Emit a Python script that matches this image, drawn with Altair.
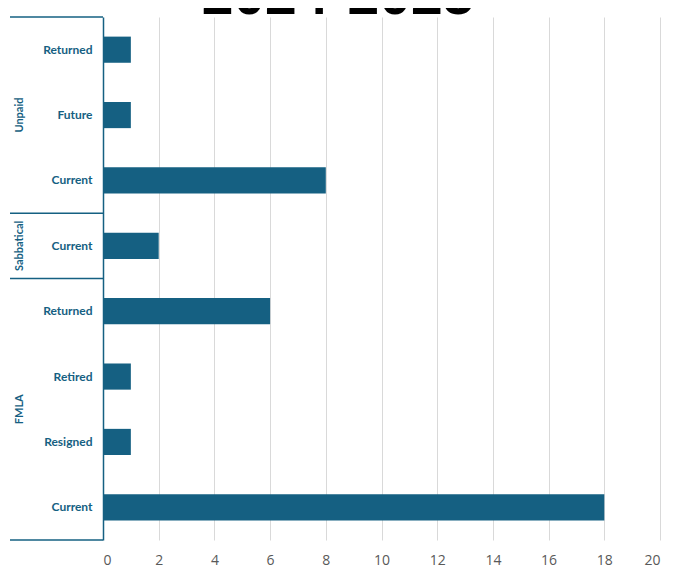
import altair as alt
import pandas as pd

chart_title = ["2024-2025"]

groups = ["Unpaid", "Unpaid", "Unpaid", "Sabbatical", "FMLA", "FMLA", "FMLA", "FMLA"]
statuses = ["Returned", "Future", "Current", "Current", "Returned", "Retired", "Resigned", "Current"]
counts = [1, 1, 8, 2, 6, 1, 1, 18]

group_names = ["Unpaid", "Sabbatical", "FMLA"]
group_start = [0, 3, 4]
group_end = [3, 4, 8]
boundaries = [0, 3, 4, 8]

x_ticks = [0, 2, 4, 6, 8, 10, 12, 14, 16, 18, 20]

BLUE = "#156082"

keys = [f"{g}|{s}" for g, s in zip(groups, statuses)]
bars_df = pd.DataFrame({"key": keys, "status": statuses, "count": counts})
grp_df = pd.DataFrame({"group": group_names,
                       "mid": [(a + b) / 2 for a, b in zip(group_start, group_end)]})
bnd_df = pd.DataFrame({"b": boundaries})
title_df = pd.DataFrame({"t": chart_title})

bars = alt.Chart(bars_df).mark_bar(color=BLUE).encode(
    y=alt.Y("key:N", sort=keys, title=None,
            scale=alt.Scale(paddingInner=0.6, paddingOuter=0.3),
            axis=alt.Axis(labelExpr="split(datum.value, '|')[1]", ticks=False,
                          domainColor=BLUE, domainWidth=1.5, labelColor=BLUE,
                          labelFont="Lato", labelFontWeight="bold", labelFontSize=12,
                          labelPadding=11, grid=False)),
    x=alt.X("count:Q", title=None, scale=alt.Scale(domain=[0, 20], nice=False),
            axis=alt.Axis(values=x_ticks, grid=True, gridColor="#d9d9d9", domain=False,
                          ticks=False, labelColor="#595959", labelFont="Open Sans",
                          labelFontSize=14, labelPadding=13)),
)

row_scale = alt.Scale(domain=[0, 8], reverse=True, nice=False, zero=False)

seps = alt.Chart(bnd_df).mark_rule(color=BLUE, strokeWidth=1.5).encode(
    y=alt.Y("b:Q", scale=row_scale, axis=None),
    x=alt.value(-93),
    x2=alt.value(0),
)

glabels = alt.Chart(grp_df).mark_text(color=BLUE, font="Lato", fontWeight="bold",
                                      fontSize=11, angle=270, align="center",
                                      baseline="middle").encode(
    y=alt.Y("mid:Q", scale=row_scale, axis=None),
    x=alt.value(-83),
    text="group:N",
)

title_mark = alt.Chart(title_df).mark_text(color="black", font="Liberation Sans",
                                           fontWeight="bold", fontSize=57,
                                           align="center", baseline="alphabetic").encode(
    x=alt.value(235),
    y=alt.value(-3),
    text="t:N",
)

chart = alt.layer(bars, seps, glabels, title_mark).resolve_scale(y="independent").properties(
    width=557, height=523,
    autosize=alt.AutoSizeParams(type="none"),
    padding={"left": 95, "top": 9, "right": 10, "bottom": 40},
).configure_view(stroke=None)

chart.save("out.html", embed_options={"renderer": "svg", "actions": False})
